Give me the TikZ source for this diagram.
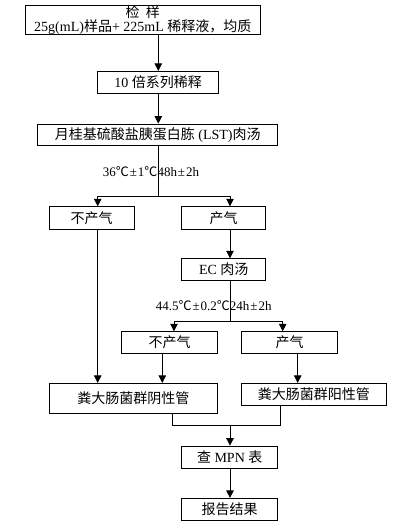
\documentclass[tikz,border=0pt]{standalone}
\usepackage{fontspec}
\setmainfont{Liberation Serif}
\newfontfamily\cjk{Noto Sans CJK SC}
\usetikzlibrary{arrows.meta}
\newcommand{\pmx}{\hspace{1pt}±\hspace{1pt}}
\begin{document}
\begin{tikzpicture}[x=1pt,y=-1pt,
  font=\fontsize{14}{14}\selectfont,
  box/.style={draw, line width=0.8pt, inner sep=0pt, align=center},
  ln/.style={line width=0.8pt},
  arr/.style={line width=0.8pt, -{Triangle[length=7.5pt,width=7.5pt]}},
  lbl/.style={inner sep=0pt, font=\fontsize{13}{13}\selectfont}]
\useasboundingbox (0,0) rectangle (405,531);
% boxes
\node[box, minimum width=234.3pt, minimum height=27.7pt] (b1) at (142.8,19.85)
  {{\cjk 检\ \ 样}\\25g(mL){\cjk 样品}+ 225mL {\cjk 稀释液，均质}};
\node[box, minimum width=120.6pt, minimum height=22pt] (b2) at (158,82.3) {10 {\cjk 倍系列稀释}};
\node[box, minimum width=240pt, minimum height=21.7pt] (b3) at (157.7,134.85) {{\cjk 月桂基硫酸盐胰蛋白胨} (LST){\cjk 肉汤}};
\node[box, minimum width=84.7pt, minimum height=22.3pt] (noA) at (91.7,217.85) {\cjk 不产气};
\node[box, minimum width=84pt, minimum height=22.3pt] (yesA) at (223.7,217.85) {\cjk 产气};
\node[box, minimum width=84pt, minimum height=22pt] (ec) at (223.7,269.7) {EC {\cjk 肉汤}};
\node[box, minimum width=96pt, minimum height=21.6pt] (noB) at (169.7,342.5) {\cjk 不产气};
\node[box, minimum width=96pt, minimum height=21.6pt] (yesB) at (289.7,342.5) {\cjk 产气};
\node[box, minimum width=168.4pt, minimum height=30pt] (neg) at (133.5,398.3) {\cjk 粪大肠菌群阴性管};
\node[box, minimum width=144.3pt, minimum height=22pt] (pos) at (313.85,394.3) {\cjk 粪大肠菌群阳性管};
\node[box, minimum width=96pt, minimum height=22pt] (mpn) at (229.7,457) {{\cjk 查} MPN {\cjk 表}};
\node[box, minimum width=96pt, minimum height=21.7pt] (rep) at (229.7,509.15) {\cjk 报告结果};
% labels
\node[lbl] (t1) at (151,171.7) {36{\cjk ℃}\pmx 1{\cjk ℃}48h\pmx 2h};
\node[lbl] (t2) at (213.7,306) {44.5{\cjk ℃}\pmx 0.2{\cjk ℃}24h\pmx 2h};
% coordinates
\coordinate (x1) at (158.3,0);
\coordinate (j1) at (158.3,196);
\coordinate (la) at (97.7,196);
\coordinate (ra) at (230,196);
\coordinate (j2) at (230,321.7);
\coordinate (lb) at (174,321.7);
\coordinate (rb) at (282.7,321.7);
\coordinate (xn1) at (97.7,0);
\coordinate (xn2) at (162.3,0);
\coordinate (xp) at (297.7,0);
\coordinate (m1) at (172.3,425.3);
\coordinate (m2) at (280,425.3);
\coordinate (mj) at (230,425.3);
% connectors
\draw[arr] (x1 |- b1.south) -- (x1 |- b2.north);
\draw[arr] (x1 |- b2.south) -- (x1 |- b3.north);
\draw[ln] (x1 |- b3.south) -- (j1);
\draw[ln] (la) -- (ra);
\draw[arr] (la) -- (la |- noA.north);
\draw[arr] (ra) -- (ra |- yesA.north);
\draw[arr] (ra |- yesA.south) -- (ra |- ec.north);
\draw[ln] (ra |- ec.south) -- (j2);
\draw[ln] (lb) -- (rb);
\draw[arr] (lb) -- (lb |- noB.north);
\draw[arr] (rb) -- (rb |- yesB.north);
\draw[arr] (xn1 |- noA.south) -- (xn1 |- neg.north);
\draw[arr] (xn2 |- noB.south) -- (xn2 |- neg.north);
\draw[arr] (xp |- yesB.south) -- (xp |- pos.north);
\draw[ln] (m1 |- neg.south) -- (m1) -- (m2) -- (m2 |- pos.south);
\draw[arr] (mj) -- (mj |- mpn.north);
\draw[arr] (mj |- mpn.south) -- (mj |- rep.north);
\end{tikzpicture}
\end{document}
